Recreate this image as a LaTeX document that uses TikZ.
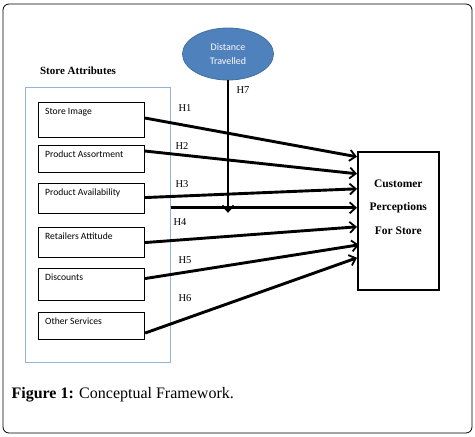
\documentclass[tikz,border=0pt]{standalone}
\usepackage{fontspec}
\setmainfont{Liberation Serif}
\newfontfamily\boxfont{Carlito}
\usetikzlibrary{arrows.meta,positioning,shapes.geometric,calc}
\definecolor{ovalblue}{HTML}{4F81BD}
\definecolor{ovalline}{HTML}{41719C}
\definecolor{framblue}{HTML}{95B3D7}
\tikzset{
  attrbox/.style={draw, line width=1.1pt, minimum width=106pt, anchor=north west,
    label={[font=\boxfont\fontsize{9.6}{10}\selectfont, anchor=north west, inner sep=0pt, xshift=7pt, yshift=-6pt]north west:#1}},
  hyp/.style={-{Straight Barb[length=6pt,width=11pt,line width=1.8pt]}, line width=2.9pt},
  hlab/.style={font=\fontsize{10.5}{11}\selectfont}
}
\begin{document}
\begin{tikzpicture}[x=1pt,y=-1pt]
   \useasboundingbox (0,0) rectangle (475,437);
   \draw[rounded corners=6pt, line width=0.8pt] (3,4) rectangle (472,433);
   \node[font=\bfseries\fontsize{11}{12}\selectfont] (title) at (78,71) {Store Attributes};
   \node[draw=framblue, line width=0.6pt, minimum width=145pt, minimum height=275pt, anchor=north west, inner sep=0pt] (attr) at (25,87) {};
   \node[attrbox=Store Image, minimum height=35pt] (si) at (38,102) {};
   \node[attrbox=Product Assortment, minimum height=27pt] (pas) at (38,145) {};
   \node[attrbox=Product Availability, minimum height=30pt] (pav) at (38,183) {};
   \node[attrbox=Retailers Attitude, minimum height=30pt] (ra) at (38,227) {};
   \node[attrbox=Discounts, minimum height=32pt] (dc) at (38,268) {};
   \node[attrbox=Other Services, minimum height=27pt] (os) at (38,312) {};
   \node[ellipse, draw=ovalline, fill=ovalblue, line width=0.8pt, minimum width=91pt, minimum height=52pt, inner sep=0pt,
     text=white!92!pink, align=center, font=\boxfont\fontsize{10}{14}\selectfont] (dist) at (228,54) {Distance\\Travelled};
   \node[draw, line width=1.6pt, minimum width=81pt, minimum height=138pt, anchor=north west, inner sep=0pt,
     align=center, font=\bfseries\fontsize{11.5}{23.5}\selectfont] (cust) at (357,151) {Customer\\Perceptions\\For Store\\[4pt]};
   \coordinate (h4start) at ([yshift=13pt]cust.west -| attr.east);
   \coordinate (h7end) at ($(dist.south |- h4start)+(0,5)$);
    \draw[hyp] ([yshift=2pt]si.east) -- ([yshift=64pt]cust.west);
    \draw[hyp] ([yshift=8pt]pas.east) -- ([yshift=47pt]cust.west);
    \draw[hyp] ([yshift=1pt]pav.east) -- ([yshift=32pt]cust.west);
    \draw[hyp] (h4start) -- ([yshift=13pt]cust.west);
    \draw[hyp] (ra.east) -- ([yshift=-6pt]cust.west);
    \draw[hyp] ([yshift=6pt]dc.east) -- ([xshift=2pt,yshift=-24pt]cust.west);
    \draw[hyp] ([yshift=-7pt]os.east) -- ([yshift=-37pt]cust.west);
    \draw[hyp] (dist.south) -- (h7end);
   \node[hlab] (h1) at (185,108) {H1};
   \node[hlab] (h2) at (182,146) {H2};
   \node[hlab] (h3) at (182,184) {H3};
   \node[hlab] (h4) at (180,222) {H4};
   \node[hlab] (h5) at (185,260) {H5};
   \node[hlab] (h6) at (185,298) {H6};
   \node[hlab] (h7) at (243,90) {H7};
   \node[anchor=west, font=\fontsize{16}{18}\selectfont] (cap) at (8,395) {\textbf{Figure 1:} Conceptual Framework.};
\end{tikzpicture}
\end{document}
